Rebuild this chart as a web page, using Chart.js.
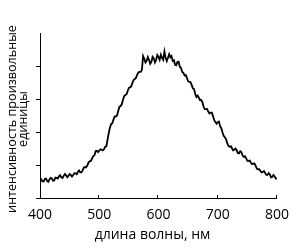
<!DOCTYPE html>
<html><head><meta charset="utf-8">
<script src="https://cdn.jsdelivr.net/npm/chart.js@4/dist/chart.umd.min.js"></script>
<style>html,body{margin:0;padding:0;background:#fff}canvas{display:block}</style>
</head><body>
<canvas id="c" width="298" height="250"></canvas>
<script>
const wavelengths = [400,402,404,406,408,410,412,414,416,418,420,422,424,426,428,430,432,434,436,438,440,442,444,446,448,450,452,454,456,458,460,462,464,466,468,470,472,474,476,478,480,482,484,486,488,490,492,494,496,498,500,502,504,506,508,510,512,514,516,518,520,522,524,526,528,530,532,534,536,538,540,542,544,546,548,550,552,554,556,558,560,562,564,566,568,570,572,574,576,578,580,582,584,586,588,590,592,594,596,598,600,602,604,606,608,610,612,614,616,618,620,622,624,626,628,630,632,634,636,638,640,642,644,646,648,650,652,654,656,658,660,662,664,666,668,670,672,674,676,678,680,682,684,686,688,690,692,694,696,698,700,702,704,706,708,710,712,714,716,718,720,722,724,726,728,730,732,734,736,738,740,742,744,746,748,750,752,754,756,758,760,762,764,766,768,770,772,774,776,778,780,782,784,786,788,790,792,794,796,798,800];
const intensity = [0.533,0.568,0.502,0.500,0.579,0.589,0.518,0.490,0.563,0.608,0.594,0.523,0.533,0.621,0.609,0.592,0.655,0.690,0.624,0.607,0.670,0.728,0.685,0.628,0.670,0.725,0.700,0.650,0.700,0.753,0.746,0.719,0.792,0.834,0.776,0.777,0.837,0.918,0.938,0.934,0.990,1.081,1.111,1.127,1.203,1.269,1.294,1.423,1.431,1.391,1.431,1.477,1.462,1.440,1.477,1.553,1.568,1.766,1.964,2.131,2.238,2.267,2.375,2.471,2.467,2.501,2.634,2.760,2.786,2.838,2.969,3.085,3.121,3.142,3.243,3.337,3.350,3.389,3.487,3.578,3.608,3.639,3.730,3.806,3.821,3.822,3.882,4.300,4.217,4.107,4.156,4.271,4.187,4.067,4.126,4.280,4.233,4.110,4.187,4.333,4.278,4.189,4.339,4.250,4.187,4.440,4.248,4.148,4.248,4.356,4.263,4.300,4.156,4.176,4.035,4.020,4.126,4.130,3.974,3.948,3.821,3.790,3.715,3.727,3.639,3.538,3.517,3.512,3.426,3.325,3.304,3.152,3.060,3.103,3.045,2.967,2.969,2.910,2.771,2.693,2.695,2.697,2.619,2.564,2.588,2.585,2.482,2.361,2.299,2.249,2.299,2.318,2.177,2.116,1.995,1.888,1.842,1.781,1.660,1.576,1.553,1.570,1.507,1.445,1.462,1.494,1.446,1.360,1.355,1.420,1.386,1.287,1.248,1.266,1.203,1.125,1.127,1.137,1.066,1.024,1.041,1.048,0.974,0.891,0.868,0.875,0.822,0.774,0.786,0.814,0.761,0.701,0.700,0.758,0.716,0.628,0.639,0.697,0.655,0.585,0.594];
const xTickValues = [400,500,600,700,800];
const xTitle = 'длина волны, нм';
const yTitle = ['интенсивность произвольные','единицы'];

const points = wavelengths.map((w,i)=>({x:w,y:intensity[i]}));

const extras = {
  id:'extras',
  afterDraw(chart){
    const {ctx, chartArea, scales:{x}} = chart;
    ctx.save();
    ctx.strokeStyle = '#000';
    ctx.lineWidth = 1;
    ctx.beginPath();
    xTickValues.slice(1).forEach(v=>{
      const px = Math.round(x.getPixelForValue(v)) - 0.5;
      ctx.moveTo(px, chartArea.bottom);
      ctx.lineTo(px, chartArea.bottom - 3);
    });
    ctx.stroke();
    ctx.fillStyle = '#000';
    ctx.font = '14px "Open Sans"';
    ctx.textAlign = 'center';
    ctx.textBaseline = 'middle';
    ctx.fillText(xTitle, (chartArea.left + chartArea.right)/2 - 6, 235);
    ctx.font = '12.6px "Open Sans"';
    ctx.translate(0, 119);
    ctx.rotate(-Math.PI/2);
    ctx.fillText(yTitle[0], 0, 12.5);
    ctx.fillText(yTitle[1], 0, 23.5);
    ctx.restore();
  }
};

new Chart(document.getElementById('c'), {
  type:'line',
  data:{datasets:[{data:points, borderColor:'#000', borderWidth:1.8, pointRadius:0, tension:0, fill:false}]},
  options:{
    responsive:false, animation:false, devicePixelRatio:1,
    layout:{padding:{top:33,right:19,left:0,bottom:0}},
    plugins:{legend:{display:false}, tooltip:{enabled:false}},
    scales:{
      x:{type:'linear', min:400, max:800,
        afterBuildTicks:s=>{s.ticks = xTickValues.map(v=>({value:v}));},
        grid:{display:false, drawTicks:false},
        border:{display:true, color:'#000', width:1},
        ticks:{color:'#000', font:{family:'Open Sans', size:14}, padding:9, maxRotation:0, autoSkip:false},
        afterFit:s=>{s.height = 52;}
      },
      y:{type:'linear', min:0, max:5,
        ticks:{stepSize:1, callback:()=>'' },
        grid:{display:true, drawOnChartArea:false, drawTicks:true, tickLength:4,
          color:c=> (c.tick && c.tick.value===5) ? 'rgba(0,0,0,0)' : '#000', lineWidth:1},
        border:{display:true, color:'#000', width:1},
        afterFit:s=>{s.width = 40;}
      }
    }
  },
  plugins:[extras]
});
</script>
</body></html>
